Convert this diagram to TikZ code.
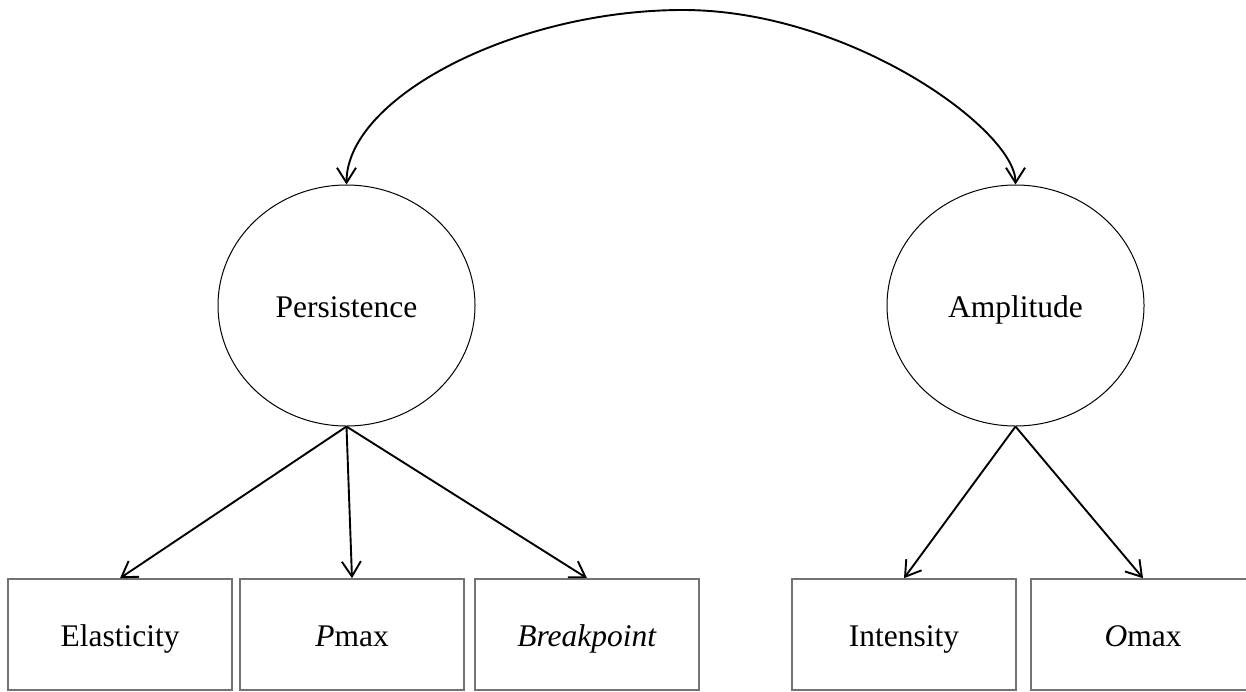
\documentclass[tikz,border=0pt]{standalone}
\usepackage{fontspec}
\setmainfont{Liberation Serif}
\usetikzlibrary{arrows.meta,shapes.geometric}
\begin{document}
\begin{tikzpicture}[x=1pt,y=-1pt,
  txt/.style={font=\fontsize{31.5}{38}\selectfont,text height=27pt,text depth=4pt},
  latent/.style={txt,draw=black,line width=1pt,ellipse,minimum width=257pt,minimum height=241pt,inner sep=0pt},
  obs/.style={txt,draw=black!55,line width=1.6pt,rectangle,minimum width=224pt,minimum height=111pt,inner sep=0pt},
  path/.style={line width=1.9pt,-{Straight Barb[length=15pt,width=19pt,line width=1.9pt]}},
  cov/.style={line width=1.9pt,{Straight Barb[length=15pt,width=19pt,line width=1.9pt]}-{Straight Barb[length=15pt,width=19pt,line width=1.9pt]}}
]
\useasboundingbox (0,0) rectangle (1246,691);
\node[latent] (P) at (346.5,305.5) {Persistence};
\node[latent] (A) at (1015.5,305.5) {Amplitude};
\node[obs] (E) at (120,634.5) {Elasticity};
\node[obs] (Pm) at (352,634.5) {\textit{P}max};
\node[obs] (B) at (587,634.5) {\textit{Breakpoint}};
\node[obs] (I) at (904,634.5) {Intensity};
\node[obs] (O) at (1143,634.5) {\textit{O}max};
\coordinate (apex) at (683,10);
\draw[path] (P.south) -- (E.north);
\draw[path] (P.south) -- (Pm.north);
\draw[path] (P.south) -- (B.north);
\draw[path] (A.south) -- (I.north);
\draw[path] (A.south) -- (O.north);
\draw[cov] (P.north) .. controls (346.5,97.5) and (515,10) .. (apex)
  .. controls (850,10) and (1015.5,130) .. (A.north);
\end{tikzpicture}
\end{document}
